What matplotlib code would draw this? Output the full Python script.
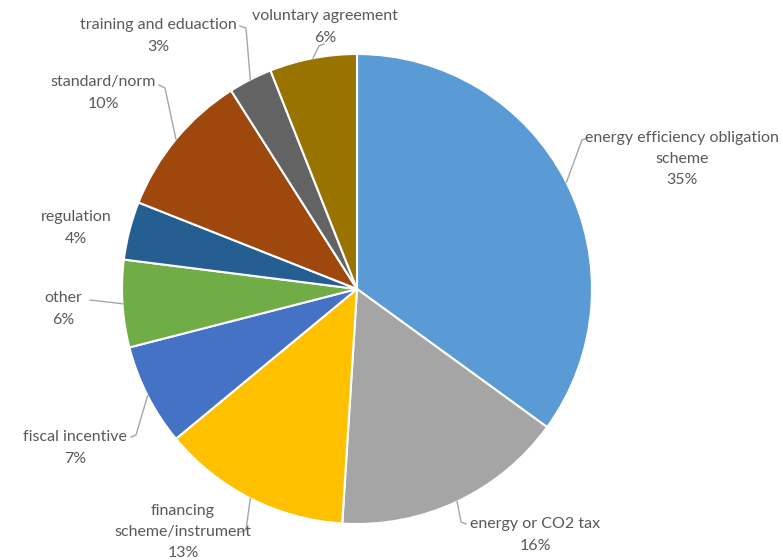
import numpy as np
import matplotlib
matplotlib.use("Agg")
import matplotlib.pyplot as plt

labels = ["energy efficiency obligation\nscheme", "energy or CO2 tax",
          "financing\nscheme/instrument", "fiscal incentive", "other",
          "regulation", "standard/norm", "training and eduaction",
          "voluntary agreement"]
shares = [35, 16, 13, 7, 6, 4, 10, 3, 6]
colors = ["#5B9BD5", "#A5A5A5", "#FFC000", "#4472C4", "#70AD47",
          "#255E91", "#9E480E", "#636363", "#997300"]

# layout in pixels (figure is 783x560), pie centre and radius
W, H = 783, 560
CX, CY, R = 357, 289, 235


def px(x, y):
    return ((x - CX) / R, (CY - y) / R)


# text centre, elbow point, attach point (pixels); None = no leader
text_pos = [(682, 159), (535, 535), (183, 532), (75, 448), (63, 309),
            (76, 228), (103, 93), (158, 36), (325, 27)]
elbows = [(582, 140), (461, 522), (246, 530), (136, 435), None,
          None, (165, 88), (246, 28), (319, 46)]
attach = [(587, 138), (466, 524), (240, 532), (131, 437), (90, 300),
          None, (159, 85), (240, 26), (324, 44)]

fig = plt.figure(figsize=(W / 100, H / 100), dpi=100)
ax = fig.add_axes([0, 0, 1, 1])
wedges, _ = ax.pie(shares, colors=colors, startangle=90, counterclock=False,
                   radius=1, wedgeprops=dict(edgecolor="white", linewidth=1.5))
ax.set_xlim(-CX / R, (W - CX) / R)
ax.set_ylim((CY - H) / R, CY / R)
ax.set_aspect("equal")
ax.axis("off")

for i, w in enumerate(wedges):
    txt = f"{labels[i]}\n{shares[i]}%"
    tx, ty = px(*text_pos[i])
    ax.text(tx, ty, txt, ha="center", va="center", fontsize=11.5,
            color="#595959", family="Lato", linespacing=1.65)
    if attach[i] is None:
        continue
    mid = np.deg2rad((w.theta1 + w.theta2) / 2)
    pts = [(np.cos(mid), np.sin(mid))]
    if elbows[i] is not None:
        pts.append(px(*elbows[i]))
    pts.append(px(*attach[i]))
    xs, ys = zip(*pts)
    ax.plot(xs, ys, color="#A6A6A6", lw=1)

fig.savefig("out.png", dpi=100)
